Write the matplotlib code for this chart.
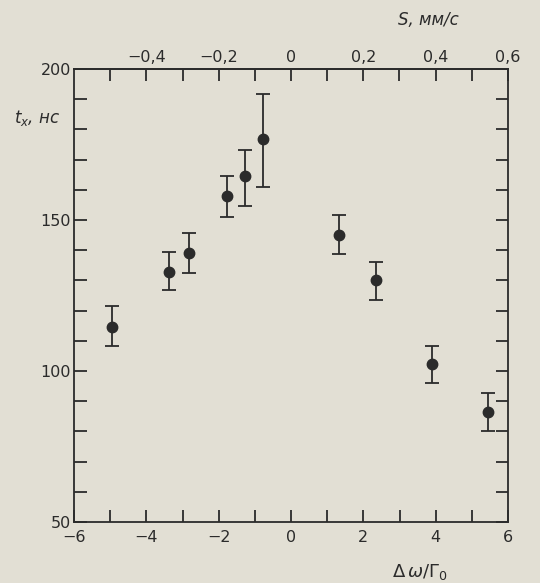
import matplotlib
matplotlib.use("Agg")
import matplotlib.pyplot as plt
import numpy as np

# Data
d_omega = [-4.94, -3.37, -2.82, -1.78, -1.26, -0.77, 1.32, 2.34, 3.90, 5.44]
t_x = [114.7, 132.8, 139.2, 158.1, 164.5, 176.8, 145.0, 130.0, 102.3, 86.4]
err_low = [6.3, 5.9, 6.6, 7.0, 9.9, 15.8, 6.2, 6.6, 6.4, 6.4]
err_high = [6.7, 6.6, 6.4, 6.4, 8.8, 15.0, 6.8, 6.1, 6.0, 6.2]

x_ticks = [-6, -4, -2, 0, 2, 4, 6]
y_ticks = [50, 100, 150, 200]
s_ticks = [-0.4, -0.2, 0.0, 0.2, 0.4, 0.6]
s_labels = ["\u22120,4", "\u22120,2", "0", "0,2", "0,4", "0,6"]

bg = "#e2dfd4"
ink = "#2b2b2b"

plt.rcParams['font.family'] = ['DejaVu Sans']
fig = plt.figure(figsize=(5.4, 5.83), dpi=100, facecolor=bg)
ax = fig.add_axes([74/540, 1 - 522/583, (508-74)/540, (522-69)/583])
ax.set_facecolor(bg)

ax.errorbar(d_omega, t_x, yerr=[err_low, err_high], fmt='o', color=ink,
            ecolor=ink, elinewidth=1.3, capsize=4.8, capthick=1.3, markersize=7.5)

ax.set_xlim(-6, 6)
ax.set_ylim(50, 200)
ax.set_xticks(x_ticks)
ax.set_xticklabels([str(v).replace('-', '\u2212') for v in x_ticks])
ax.set_xticks(np.arange(-5, 6, 1), minor=True)
ax.set_yticks(y_ticks)
ax.set_yticklabels([str(v) for v in y_ticks])
ax.set_yticks(np.arange(60, 200, 10), minor=True)

for sp in ax.spines.values():
    sp.set_color(ink)
    sp.set_linewidth(1.3)

ax.tick_params(axis='both', which='both', direction='in', color=ink,
               width=1.3, labelsize=11.5, labelcolor=ink)
ax.tick_params(axis='x', which='both', length=8.5, pad=6)
ax.tick_params(axis='y', which='both', length=9, right=True, pad=2)
ax.tick_params(axis='x', which='minor', length=8.5)

# Top axis: S = Δω/10
sec = ax.secondary_xaxis('top', functions=(lambda v: v / 10.0, lambda v: v * 10.0))
sec.set_xticks(s_ticks)
sec.set_xticklabels(s_labels)
sec.set_xticks(np.arange(-0.5, 0.61, 0.1), minor=True)
sec.tick_params(axis='x', which='both', direction='in', length=8.5, width=1.3,
                color=ink, labelsize=11.5, labelcolor=ink, pad=3)
sec.spines['top'].set_color(ink)
sec.spines['top'].set_linewidth(1.3)

fig.text(14/540, 1 - 118/583, "$t_x$, нс", fontsize=12, color=ink, va='center',
         ha='left', style='italic')
fig.text(428/540, 1 - 20/583, "S, мм/с", fontsize=12, color=ink, va='center',
         ha='center', style='italic')
fig.text(420/540, 1 - 572/583, "$\\Delta\\,\\omega/\\Gamma_0$", fontsize=13,
         color=ink, va='center', ha='center')

fig.savefig("out.png", dpi=100, facecolor=bg)
